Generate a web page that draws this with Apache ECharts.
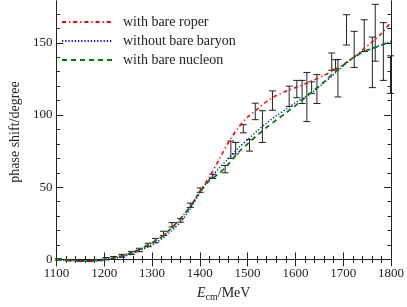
<!DOCTYPE html>
<html>
<head>
<meta charset="utf-8">
<script src="https://cdn.jsdelivr.net/npm/echarts@6/dist/echarts.min.js"></script>
<style>html,body{margin:0;padding:0;background:#fff}#c{width:407px;height:307px}</style>
</head>
<body>
<div id="c"></div>
<script>
// curves: energies (MeV) and phase shifts (degree)
var curveE = [1100,1120,1140,1160,1180,1200,1220,1240,1260,1280,1300,1320,1340,1360,1380,1400,1420,1440,1460,1480,1500,1520,1540,1560,1580,1600,1620,1640,1660,1680,1700,1720,1740,1760,1780,1800];
var roper = [0,-0.5,-1,-1,-0.7,0,1,2.8,5,8,11.5,15.5,21.5,28.5,36.5,47,57,69,81,91,98.5,104,109.5,113.5,116.5,119,121.5,124.5,127.5,131,135,139.5,145,150.5,156.5,164.5];
var noBare = [0,-0.5,-1,-1,-0.8,-0.3,0.6,2,4,7,10,14,19.5,26,35,46,55.5,63,70,77,83,89,94.5,99.5,104,108.5,112.5,117,122.5,128,134,139.5,143.5,146,148.5,151];
var nucleon = [0,-0.5,-1,-1,-0.7,0,1,2.8,5,8,11.5,15.5,21.5,28.5,36.5,46.5,54.5,59.5,66,74,80,86,91.5,96.5,101.5,106.5,112,117.5,123,129,134.5,139.5,143.5,146,148.5,151];
// experimental points with errors
var dataE = [1104,1125,1150,1170,1190,1204,1220,1237,1257,1274,1292,1307,1324,1342,1360,1380,1401,1427,1453,1465,1475,1491,1504,1516,1531,1552,1587,1603,1614,1624,1634,1645,1676,1684,1689,1707,1723,1744,1761,1767,1784,1799];
var dataV = [0,-0.5,-1,-1,-0.5,0.5,1,2.5,4.5,6.5,10,13,18,24,27,37.5,48,57.5,62.5,76,77,90.5,79,102.5,92,110,113,118,116,112.5,119,118,137,135,125.5,159,145.5,155,136.5,157,144,128];
var dataErr = [0.5,0.5,0.5,0.5,0.5,0.8,1,1,1,1.2,1.2,1.5,1.5,1.5,1.2,1.5,1.5,1.5,2.5,6,4,2.8,4,5.7,11,6.7,7,6,8,17,4,10,6,3.3,13,10.5,12.5,11,17.5,19.7,20,13];
var xTicks = [1100,1200,1300,1400,1500,1600,1700,1800];
var yTicks = [0,50,100,150];
var yMinor = [10,20,30,40,60,70,80,90,110,120,130,140,160,170];
var names = ['with bare roper','without bare baryon','with bare nucleon'];

var FONT = 'Liberation Serif';
var AX = '#222';
function zip(a,b){return a.map(function(v,i){return [v,b[i]];});}
var errData = dataE.map(function(e,i){return [e,dataV[i],dataErr[i]];});

var chart = echarts.init(document.getElementById('c'));
var xBase = {type:'value',min:1100,max:1800,interval:100,
  axisLine:{show:true,lineStyle:{color:AX,width:1}},
  axisTick:{show:true,inside:true,length:7,lineStyle:{color:AX}},
  minorTick:{show:true,splitNumber:5,length:3.5,lineStyle:{color:AX}},
  splitLine:{show:false}};
var yBase = {type:'value',min:-2.5,max:179,
  axisLine:{show:true,lineStyle:{color:AX,width:1}},
  splitLine:{show:false}};
chart.setOption({
  animation:false,
  grid:{left:42,right:14,top:1,bottom:34},
  legend:{orient:'vertical',left:56,top:10,itemWidth:50,itemHeight:14,itemGap:5,
    itemStyle:{opacity:0},
    data:names,textStyle:{fontFamily:FONT,fontSize:14,color:'#222',padding:[0,0,0,6]}},
  xAxis:[
    Object.assign({},xBase,{position:'bottom',
      axisLabel:{fontFamily:FONT,fontSize:13,color:AX,margin:4,
        customValues:xTicks,formatter:function(v){return String(v);}},
      name:'{i|E}{s|cm}/MeV',nameLocation:'middle',nameGap:22,
      nameTextStyle:{fontFamily:FONT,fontSize:14,color:AX,
        rich:{i:{fontFamily:FONT,fontStyle:'italic',fontSize:14,color:AX},
              s:{fontFamily:FONT,fontSize:10,color:AX,padding:[7,0,0,0]}}}}),
    Object.assign({},xBase,{position:'top',axisLabel:{show:false}})
  ],
  yAxis:[
    Object.assign({},yBase,{position:'left',
      axisTick:{show:true,inside:true,length:7,customValues:yTicks,lineStyle:{color:AX}},
      axisLabel:{customValues:yTicks,fontFamily:FONT,fontSize:13,color:AX,margin:4},
      name:'phase shift/degree',nameLocation:'middle',nameGap:31,
      nameTextStyle:{fontFamily:FONT,fontSize:14,color:AX}}),
    Object.assign({},yBase,{position:'right',
      axisTick:{show:true,inside:true,length:7,customValues:yTicks,lineStyle:{color:AX}},
      axisLabel:{show:false}}),
    Object.assign({},yBase,{position:'left',
      axisTick:{show:true,inside:true,length:3.5,customValues:yMinor,lineStyle:{color:AX}},
      axisLabel:{show:false}}),
    Object.assign({},yBase,{position:'right',
      axisTick:{show:true,inside:true,length:3.5,customValues:yMinor,lineStyle:{color:AX}},
      axisLabel:{show:false}})
  ],
  series:[
    {name:names[0],type:'line',data:zip(curveE,roper),showSymbol:false,symbol:'none',smooth:0.3,
      lineStyle:{color:'#ff0000',width:1.6,type:[4,3,1.2,3]},itemStyle:{color:'#ff0000'},z:3},
    {name:names[1],type:'line',data:zip(curveE,noBare),showSymbol:false,symbol:'none',smooth:0.3,
      lineStyle:{color:'#0000ff',width:1.4,type:[1.2,2]},itemStyle:{color:'#0000ff'},z:3},
    {name:names[2],type:'line',data:zip(curveE,nucleon),showSymbol:false,symbol:'none',smooth:0.3,
      lineStyle:{color:'#008000',width:1.8,type:[5,4]},itemStyle:{color:'#008000'},z:3},
    {type:'custom',data:errData,z:2,
      renderItem:function(params,api){
        var x=api.value(0),v=api.value(1),e=api.value(2);
        var p1=api.coord([x,v+e]),p2=api.coord([x,v-e]);
        var st={stroke:'#222',lineWidth:1};
        return {type:'group',children:[
          {type:'line',shape:{x1:p1[0],y1:p1[1],x2:p2[0],y2:p2[1]},style:st},
          {type:'line',shape:{x1:p1[0]-3.5,y1:p1[1],x2:p1[0]+3.5,y2:p1[1]},style:st},
          {type:'line',shape:{x1:p2[0]-3.5,y1:p2[1],x2:p2[0]+3.5,y2:p2[1]},style:st}
        ]};
      }}
  ]
});
</script>
</body>
</html>
